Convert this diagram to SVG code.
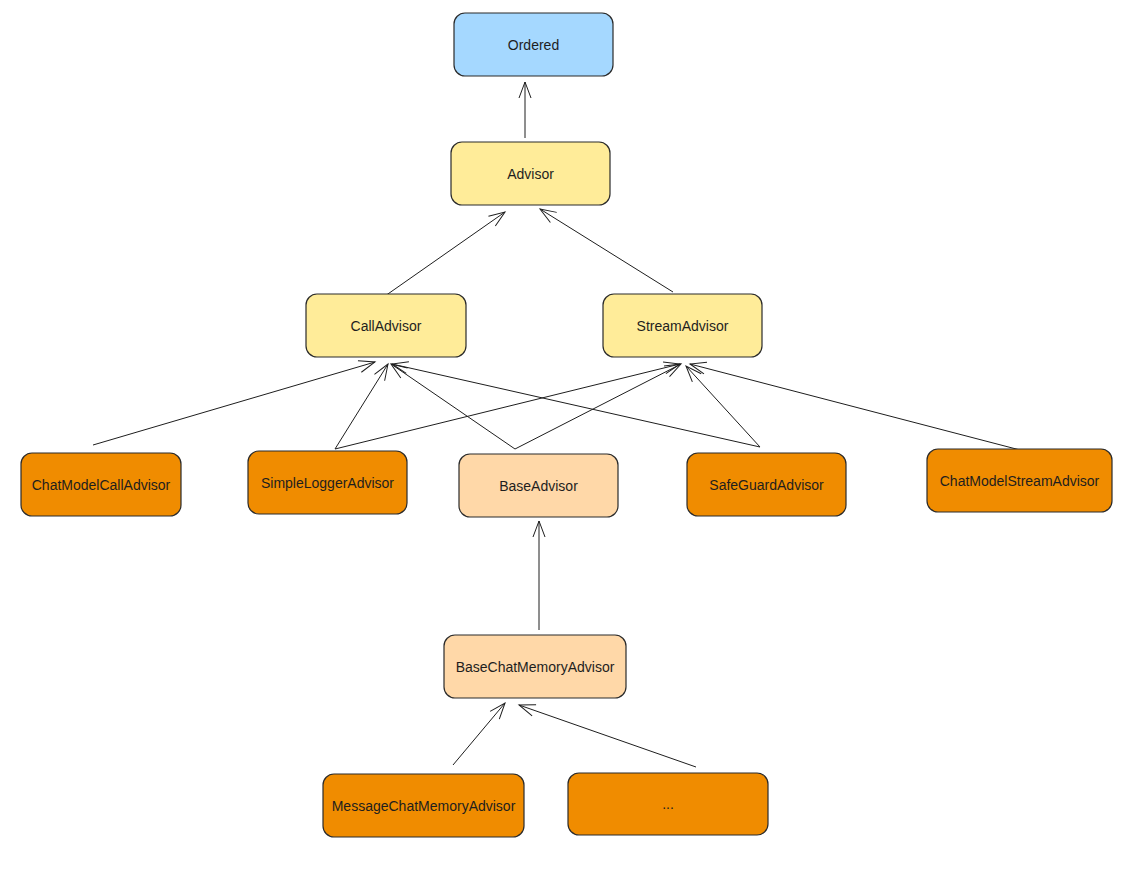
<svg xmlns="http://www.w3.org/2000/svg" width="1140" height="873" viewBox="0 0 1140 873">
<style>
.n rect{stroke:#2b2b2b;stroke-width:1.2}
.blue{fill:#a5d8ff}.yel{fill:#ffec99}.org{fill:#f08c00}.pch{fill:#ffd8a8}
.n text{font-family:"Liberation Sans",Arial,sans-serif;font-size:14px;fill:#1e1e1e;text-anchor:middle;dominant-baseline:central}
.c line{stroke:#1e1e1e;stroke-width:1;fill:none;marker-end:url(#ah)}
</style>
<defs>
<marker id="ah" viewBox="0 0 20 20" refX="18" refY="10" markerWidth="20" markerHeight="20" markerUnits="userSpaceOnUse" orient="auto">
<path d="M2 4 L18 10 L2 16" fill="none" stroke="#1e1e1e" stroke-width="1"/>
</marker>
</defs>
<rect width="1140" height="873" fill="#ffffff"/>
<g class="c" id="connectors">
<line x1="525" y1="138" x2="525" y2="82"/>
<line x1="385" y1="296" x2="505" y2="212"/>
<line x1="673" y1="292" x2="540" y2="209"/>
<line x1="93" y1="445" x2="375" y2="362"/>
<line x1="335" y1="449" x2="388" y2="364"/>
<line x1="335" y1="449" x2="680" y2="364"/>
<line x1="515" y1="449" x2="391" y2="364"/>
<line x1="515" y1="449" x2="681" y2="364"/>
<line x1="760" y1="447" x2="392" y2="364"/>
<line x1="760" y1="447" x2="686" y2="366"/>
<line x1="1020" y1="450" x2="690" y2="364"/>
<line x1="539" y1="630" x2="539" y2="521"/>
<line x1="453" y1="765" x2="505" y2="703"/>
<line x1="696" y1="767" x2="519" y2="705"/>
</g>
<g class="n" id="ordered"><rect class="blue" x="454" y="13" width="159" height="63" rx="11"/><text x="533.5" y="44.5">Ordered</text></g>
<g class="n" id="advisor"><rect class="yel" x="451" y="142" width="159" height="63" rx="11"/><text x="530.5" y="173.5">Advisor</text></g>
<g class="n" id="calladvisor"><rect class="yel" x="306" y="294" width="160" height="63" rx="11"/><text x="386" y="325.5">CallAdvisor</text></g>
<g class="n" id="streamadvisor"><rect class="yel" x="603" y="294" width="159" height="63" rx="11"/><text x="682.5" y="325.5">StreamAdvisor</text></g>
<g class="n" id="chatmodelcalladvisor"><rect class="org" x="21" y="453" width="160" height="63" rx="11"/><text x="101" y="484.5">ChatModelCallAdvisor</text></g>
<g class="n" id="simpleloggeradvisor"><rect class="org" x="248" y="451" width="159" height="63" rx="11"/><text x="327.5" y="482.5">SimpleLoggerAdvisor</text></g>
<g class="n" id="baseadvisor"><rect class="pch" x="459" y="454" width="159" height="63" rx="11"/><text x="538.5" y="485.5">BaseAdvisor</text></g>
<g class="n" id="safeguardadvisor"><rect class="org" x="687" y="453" width="159" height="63" rx="11"/><text x="766.5" y="484.5">SafeGuardAdvisor</text></g>
<g class="n" id="chatmodelstreamadvisor"><rect class="org" x="927" y="449" width="185" height="63" rx="11"/><text x="1019.5" y="480.5">ChatModelStreamAdvisor</text></g>
<g class="n" id="basechatmemoryadvisor"><rect class="pch" x="444" y="635" width="182" height="63" rx="11"/><text x="535" y="666.5">BaseChatMemoryAdvisor</text></g>
<g class="n" id="messagechatmemoryadvisor"><rect class="org" x="323" y="774" width="201" height="63" rx="11"/><text x="423.5" y="805.5">MessageChatMemoryAdvisor</text></g>
<g class="n" id="more"><rect class="org" x="568" y="773" width="200" height="62" rx="11"/><text x="668" y="804">...</text></g>
</svg>
